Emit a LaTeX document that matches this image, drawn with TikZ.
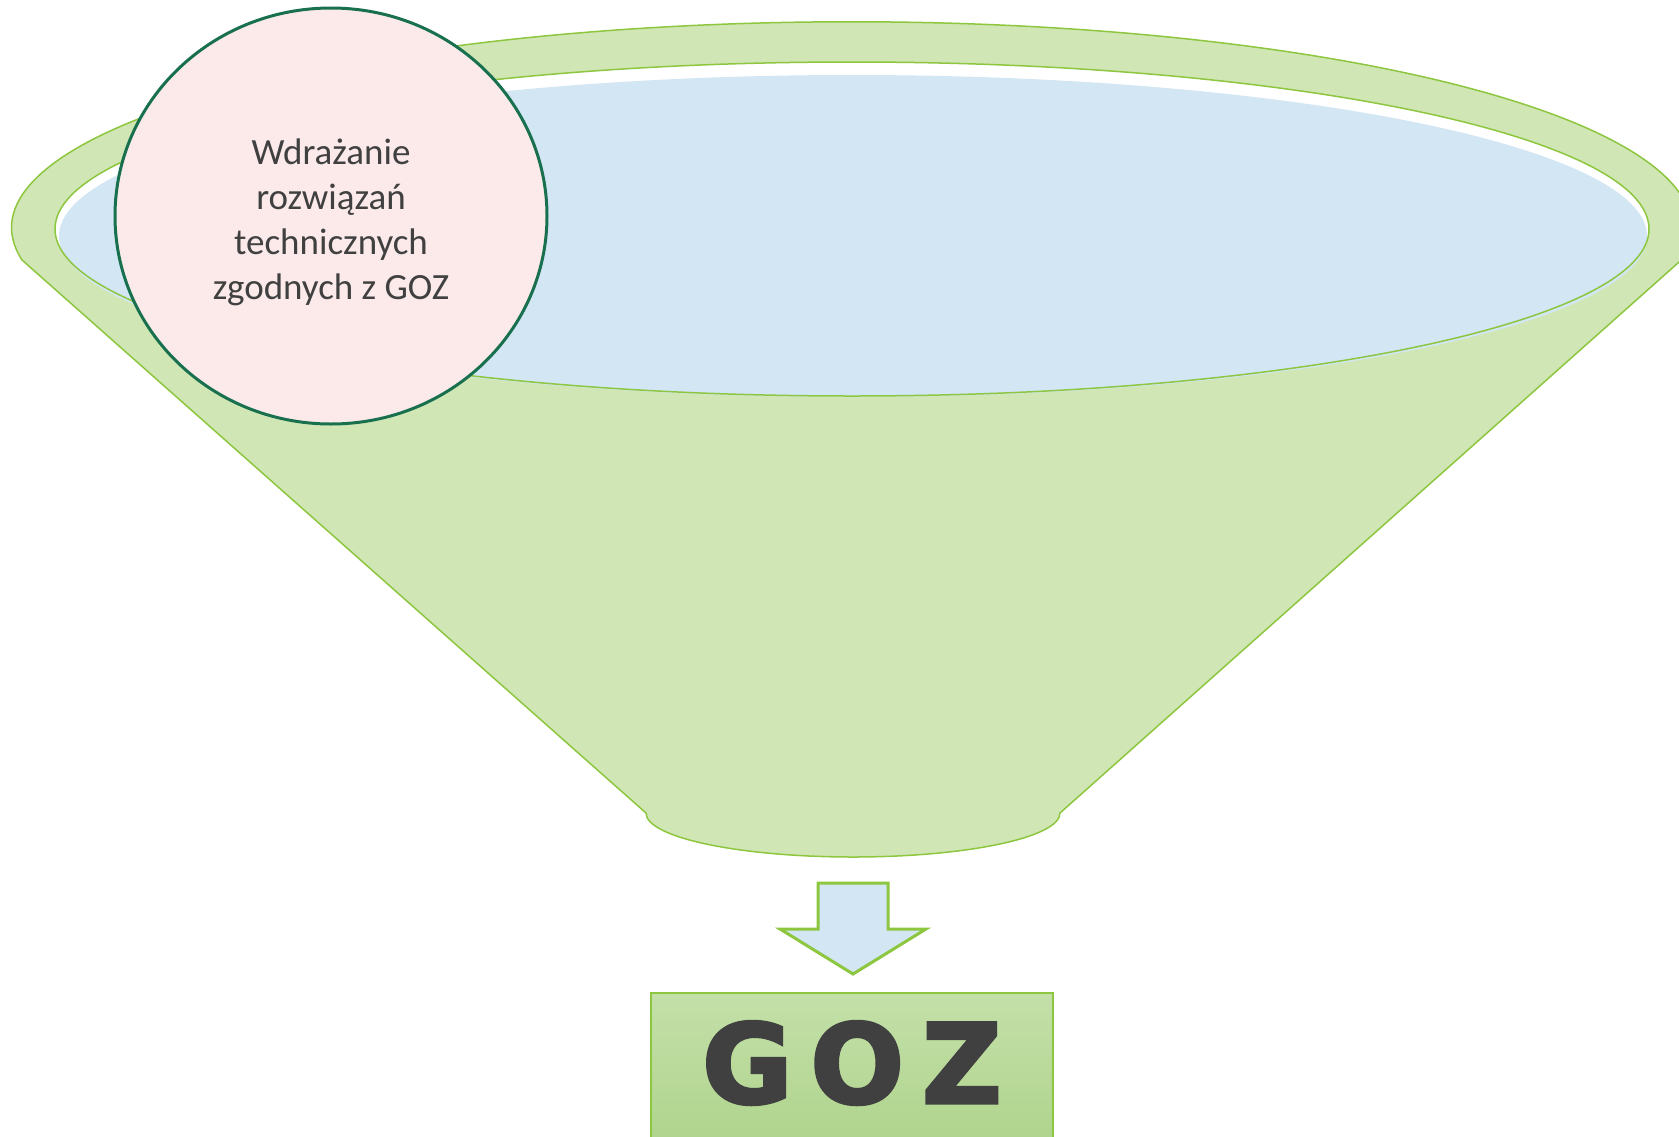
\documentclass[tikz,border=0pt]{standalone}
\usepackage{fontspec}
\setmainfont{Carlito}
\newfontfamily\gozfont{DejaVu Sans}[BoldFeatures={FakeBold=3}]
\usetikzlibrary{shapes.geometric}
\definecolor{funnelgreen}{HTML}{D1E6B5}
\definecolor{linegreen}{HTML}{8DC63F}
\definecolor{waterblue}{HTML}{D2E6F4}
\definecolor{bubblepink}{HTML}{FCEAEA}
\definecolor{bubbleedge}{HTML}{18704F}
\definecolor{textgrey}{HTML}{404040}
\definecolor{boxtop}{HTML}{C4E0A9}
\definecolor{boxbottom}{HTML}{AED38B}
\tikzset{
  funnelline/.style={draw=linegreen, line width=1.5pt},
  bubble/.style={ellipse, fill=bubblepink, draw=bubbleedge, line width=3pt,
    inner sep=0pt, align=center, text=textgrey,
    font=\fontsize{37}{45}\selectfont},
  blockarrow/.style={fill=waterblue, draw=linegreen, line width=3pt, line join=miter},
  resultbox/.style={draw=linegreen, line width=1.5pt, top color=boxtop,
    bottom color=boxbottom, inner sep=0pt},
  resultlabel/.style={text=textgrey, inner sep=0pt,
    font=\gozfont\bfseries\fontsize{110}{110}\selectfont}
}
\begin{document}
\begin{tikzpicture}[x=1pt,y=1pt]
\useasboundingbox (0,0) rectangle (1679,-1136);
\clip (0,0) rectangle (1679,-1136);

% funnel body: rim arc on top, straight sides, rounded bottom
\path[fill=funnelgreen, funnelline]
  (22,-260) arc[start angle=189, end angle=-9, x radius=840, y radius=206]
  -- (1060,-813) arc[start angle=0, end angle=-180, x radius=207, y radius=44]
  -- cycle;

% opening of the funnel
\fill[white] (852,-229) ellipse[x radius=797, y radius=167];
\fill[waterblue] (853,-236) ellipse[x radius=794, y radius=161];
\draw[funnelline] (852,-229) ellipse[x radius=797, y radius=167];

% bubble with the first step
\node[bubble, minimum width=432pt, minimum height=416pt] (step1) at (331,-216)
  {\rule{0pt}{38pt}Wdrażanie\\rozwiązań\\technicznych\\zgodnych z GOZ};

% block arrow out of the funnel
\path[blockarrow] (818,-883) -- (888,-883) -- (888,-929) -- (926,-929)
  -- (853,-974) -- (780,-929) -- (818,-929) -- cycle;

% result box
\node[resultbox, minimum width=402pt, minimum height=160pt, anchor=north]
  (goz) at (852,-992) {};
\node[resultlabel] (gozlabel) at ([yshift=-71pt]goz.north)
  {G\kern18pt O\kern18pt Z};
\end{tikzpicture}
\end{document}
